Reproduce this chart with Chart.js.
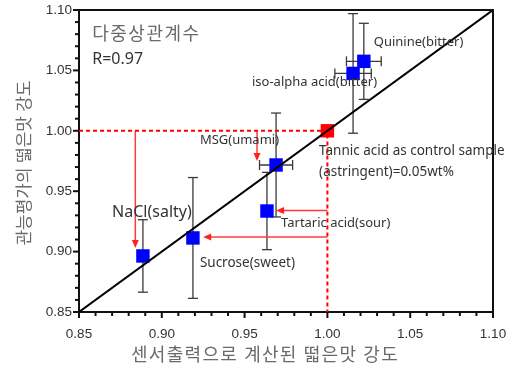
<!DOCTYPE html>
<html>
<head>
<meta charset="utf-8">
<script src="https://cdn.jsdelivr.net/npm/chart.js@4.4.1/dist/chart.umd.min.js"></script>
<style>
html, body { margin: 0; padding: 0; background: #fff; }
#wrap { width: 523px; height: 373px; }
</style>
</head>
<body>
<div id="wrap"><canvas id="graph"></canvas></div>
<script>
// donnees : sensor (x) vs panel (y)
var samples = ['NaCl', 'Sucrose', 'Tartaric acid', 'MSG', 'iso-alpha acid', 'Quinine'];
var sensorValues = [0.8886, 0.9188, 0.9635, 0.969, 1.0155, 1.022];
var panelValues = [0.8964, 0.9113, 0.9336, 0.9717, 1.0475, 1.0575];
var panelErrors = [0.030, 0.050, 0.032, 0.043, 0.0495, 0.0315];
var sensorErrors = [0, 0, 0, 0.010, 0.011, 0.0105];

var controlSensor = [1.00];
var controlPanel = [1.00];

// fleches rouges (debut -> fin, en unites des axes)
var arrowFromX = [0.884, 0.9575, 1.00, 1.00];
var arrowFromY = [1.00, 1.00, 0.934, 0.912];
var arrowToX = [0.884, 0.9575, 0.969, 0.925];
var arrowToY = [0.903, 0.975, 0.934, 0.912];

// etiquettes
var labelText = ['다중상관계수', 'R=0.97', 'Quinine(bitter)', 'iso-alpha acid(bitter)', 'MSG(umami)',
  'Tannic acid as control sample', '(astringent)=0.05wt%', 'NaCl(salty)', 'Sucrose(sweet)', 'Tartaric acid(sour)'];
var labelX = [0.858, 0.858, 1.028, 1.030, 0.923, 0.995, 0.995, 0.870, 0.923, 0.972];
var labelY = [1.079, 1.0594, 1.0735, 1.0404, 0.9924, 0.9833, 0.966, 0.9328, 0.8906, 0.9237];

var xTitle = '센서출력으로 계산된 떫은맛 강도';
var yTitle = '관능평가의 떫은맛 강도';

var axisMin = 0.85;
var axisMax = 1.10;
var majorStep = 0.05;
var minorStep = 0.01;

var sansFont = '"Noto Sans", "Noto Sans CJK KR", sans-serif';

var labelStyles = [
  { size: 18, color: '#6a6a6a', align: 'left', spacing: 1.5 },
  { size: 16, color: '#333', align: 'left', spacing: 0 },
  { size: 13, color: '#333', align: 'left', spacing: 0 },
  { size: 13, color: '#333', align: 'right', spacing: 0 },
  { size: 13, color: '#333', align: 'left', spacing: 0 },
  { size: 13.5, color: '#333', align: 'left', spacing: 0 },
  { size: 13.5, color: '#333', align: 'left', spacing: 0 },
  { size: 16, color: '#333', align: 'left', spacing: 0 },
  { size: 13.5, color: '#333', align: 'left', spacing: 0 },
  { size: 13, color: '#333', align: 'left', spacing: 0 }
];

var line = function(ctx, x1, y1, x2, y2) {
  ctx.beginPath();
  ctx.moveTo(x1, y1);
  ctx.lineTo(x2, y2);
  ctx.stroke();
};

var extras = {
  id: 'extras',
  beforeDatasetsDraw: function(chart) {
    var ctx = chart.ctx, xs = chart.scales.x, ys = chart.scales.y;
    ctx.save();
    // barres d'erreur
    ctx.strokeStyle = '#3a3a3a';
    ctx.lineWidth = 1.3;
    for (var i = 0; i < samples.length; i++) {
      var px = xs.getPixelForValue(sensorValues[i]);
      var py = ys.getPixelForValue(panelValues[i]);
      var top = ys.getPixelForValue(panelValues[i] + panelErrors[i]);
      var bot = ys.getPixelForValue(panelValues[i] - panelErrors[i]);
      line(ctx, px, top, px, bot);
      line(ctx, px - 5, top, px + 5, top);
      line(ctx, px - 5, bot, px + 5, bot);
      if (sensorErrors[i]) {
        var l = xs.getPixelForValue(sensorValues[i] - sensorErrors[i]);
        var r = xs.getPixelForValue(sensorValues[i] + sensorErrors[i]);
        line(ctx, l, py, r, py);
        line(ctx, l, py - 5, l, py + 5);
        line(ctx, r, py - 5, r, py + 5);
      }
    }
    // fleches
    ctx.strokeStyle = '#ff3b3b';
    ctx.fillStyle = '#ff2020';
    ctx.lineWidth = 1.5;
    for (var j = 0; j < arrowFromX.length; j++) {
      var x1 = xs.getPixelForValue(arrowFromX[j]), y1 = ys.getPixelForValue(arrowFromY[j]);
      var x2 = xs.getPixelForValue(arrowToX[j]), y2 = ys.getPixelForValue(arrowToY[j]);
      var a = Math.atan2(y2 - y1, x2 - x1);
      line(ctx, x1, y1, x2 - 5 * Math.cos(a), y2 - 5 * Math.sin(a));
      ctx.beginPath();
      ctx.moveTo(x2, y2);
      ctx.lineTo(x2 - 8 * Math.cos(a) + 3.5 * Math.sin(a), y2 - 8 * Math.sin(a) - 3.5 * Math.cos(a));
      ctx.lineTo(x2 - 8 * Math.cos(a) - 3.5 * Math.sin(a), y2 - 8 * Math.sin(a) + 3.5 * Math.cos(a));
      ctx.closePath();
      ctx.fill();
    }
    ctx.restore();
  },
  afterDraw: function(chart) {
    var ctx = chart.ctx, xs = chart.scales.x, ys = chart.scales.y, area = chart.chartArea;
    ctx.save();
    // graduations (majeures + mineures)
    ctx.strokeStyle = '#111';
    ctx.lineWidth = 2;
    var n = Math.round((axisMax - axisMin) / minorStep);
    var every = Math.round(majorStep / minorStep);
    for (var k = 0; k <= n; k++) {
      var v = axisMin + k * minorStep;
      var len = k % every === 0 ? 6 : 4;
      var tx = xs.getPixelForValue(v), ty = ys.getPixelForValue(v);
      line(ctx, tx, area.bottom, tx, area.bottom + len);
      line(ctx, area.left - len, ty, area.left, ty);
    }
    // cadre haut / droite
    ctx.lineWidth = 2;
    ctx.beginPath();
    ctx.moveTo(area.left, area.top);
    ctx.lineTo(area.right, area.top);
    ctx.lineTo(area.right, area.bottom);
    ctx.stroke();
    // textes
    ctx.textBaseline = 'middle';
    for (var i = 0; i < labelText.length; i++) {
      var st = labelStyles[i];
      ctx.font = st.size + 'px ' + sansFont;
      ctx.letterSpacing = st.spacing + 'px';
      ctx.fillStyle = st.color;
      ctx.textAlign = st.align;
      ctx.fillText(labelText[i], xs.getPixelForValue(labelX[i]), ys.getPixelForValue(labelY[i]));
    }
    // titres des axes
    ctx.fillStyle = '#6a6a6a';
    ctx.textAlign = 'center';
    ctx.font = '18px ' + sansFont;
    ctx.letterSpacing = '1.3px';
    ctx.fillText(xTitle, (area.left + area.right) / 2 - 21, area.bottom + 44);
    ctx.font = '17px ' + sansFont;
    ctx.letterSpacing = '0px';
    ctx.translate(25, (area.top + area.bottom) / 2 + 2);
    ctx.rotate(-Math.PI / 2);
    ctx.fillText(yTitle, 0, 0);
    ctx.restore();
  }
};

var tickLabel = function(v) {
  return v.toFixed(2);
};

var config = {
  type: 'scatter',
  data: {
    datasets: [{
      type: 'line',
      label: 'diagonal',
      data: [{ x: axisMin, y: axisMin }, { x: axisMax, y: axisMax }],
      borderColor: '#000',
      borderWidth: 2,
      pointRadius: 0,
      fill: false
    }, {
      label: 'samples',
      data: sensorValues.map(function(v, i) { return { x: v, y: panelValues[i] }; }),
      backgroundColor: '#0000ff',
      borderWidth: 0,
      pointStyle: 'rect',
      pointRadius: 9.5
    }, {
      label: 'control',
      data: controlSensor.map(function(v, i) { return { x: v, y: controlPanel[i] }; }),
      backgroundColor: '#ff0000',
      borderWidth: 0,
      pointStyle: 'rect',
      pointRadius: 9.5
    }, {
      type: 'line',
      label: 'control lines',
      data: [{ x: axisMin, y: controlPanel[0] }, { x: controlSensor[0], y: controlPanel[0] }, { x: controlSensor[0], y: axisMin }],
      borderColor: '#ff0000',
      borderWidth: 2,
      borderDash: [4, 3],
      pointRadius: 0,
      fill: false
    }]
  },
  options: {
    responsive: true,
    maintainAspectRatio: false,
    animation: false,
    layout: { padding: { left: 0, top: 10, right: 30, bottom: 0 } },
    plugins: { legend: { display: false }, tooltip: { enabled: false } },
    scales: {
      x: {
        type: 'linear',
        min: axisMin,
        max: axisMax,
        afterFit: function(s) { s.height = 61; },
        border: { display: true, color: '#111', width: 2 },
        grid: { drawOnChartArea: false, drawTicks: true, tickLength: 6, tickColor: 'rgba(0,0,0,0)' },
        ticks: {
          stepSize: majorStep, autoSkip: false, maxRotation: 0, padding: 8,
          color: '#333', font: { family: 'Arial, "Liberation Sans", sans-serif', size: 13.5 },
          callback: tickLabel
        }
      },
      y: {
        type: 'linear',
        min: axisMin,
        max: axisMax,
        afterFit: function(s) { s.width = 79; },
        border: { display: true, color: '#111', width: 2 },
        grid: { drawOnChartArea: false, drawTicks: true, tickLength: 6, tickColor: 'rgba(0,0,0,0)' },
        ticks: {
          stepSize: majorStep, autoSkip: false, padding: 1,
          color: '#333', font: { family: 'Arial, "Liberation Sans", sans-serif', size: 13.5 },
          callback: tickLabel
        }
      }
    }
  },
  plugins: [extras]
};

window.onload = function() {
  var ctx = document.getElementById('graph').getContext('2d');
  window.myChart = new Chart(ctx, config);
};
</script>
</body>
</html>
